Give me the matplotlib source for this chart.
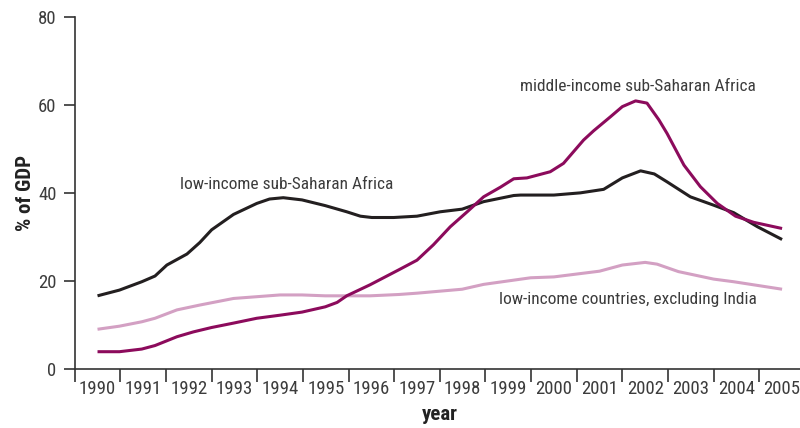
import matplotlib
matplotlib.use("Agg")
import matplotlib.pyplot as plt
from matplotlib import font_manager

# pick a narrow sans face if one is available
available = {f.name for f in font_manager.fontManager.ttflist}
FONT = "DejaVu Sans"
for fam in ["Roboto Condensed", "Archivo Narrow", "PT Sans Narrow", "Fira Sans Condensed",
            "Barlow Semi Condensed", "Liberation Sans Narrow", "Sofia Sans Condensed",
            "Roboto"]:
    if fam in available:
        FONT = fam
        break
plt.rcParams["font.family"] = [FONT, "DejaVu Sans"]

years = [str(y) for y in range(1990, 2006)]
y_ticks = [0, 20, 40, 60, 80]

# positions are measured in years after 1990 (category 1990 = 0)
low_ssa_t = [0, 0.48, 0.97, 1.26, 1.52, 1.96, 2.24, 2.5, 2.98, 3.49, 3.77, 4.07,
             4.48, 4.99, 5.46, 5.76, 6.01, 6.49, 7.0, 7.51, 7.99, 8.46, 9.12,
             9.27, 10.0, 10.58, 11.09, 11.5, 11.9, 12.2, 12.48, 12.99, 13.5,
             13.94, 14.46, 15.0]
low_ssa = [16.7, 18.0, 19.9, 21.2, 23.7, 26.2, 28.8, 31.7, 35.2, 37.7, 38.7, 39.0,
           38.5, 37.2, 35.8, 34.8, 34.5, 34.5, 34.8, 35.8, 36.4, 38.1, 39.5,
           39.6, 39.6, 40.1, 40.9, 43.5, 45.1, 44.4, 42.6, 39.2, 37.3,
           35.6, 32.4, 29.5]

mid_ssa_t = [0, 0.48, 0.97, 1.26, 1.74, 2.1, 2.5, 2.98, 3.49, 4.0, 4.48, 4.99,
             5.25, 5.46, 5.97, 6.6, 7.0, 7.36, 7.73, 8.1, 8.46, 8.83, 9.12,
             9.41, 9.92, 10.21, 10.65, 10.87, 11.24, 11.5, 11.79, 12.04, 12.3,
             12.48, 12.85, 13.21, 13.58, 13.98, 14.38, 15.0]
mid_ssa = [4.0, 4.0, 4.6, 5.4, 7.4, 8.5, 9.5, 10.5, 11.6, 12.3, 13.0, 14.2,
           15.2, 16.7, 19.2, 22.6, 24.8, 28.3, 32.4, 35.8, 39.2, 41.4, 43.3,
           43.5, 44.9, 46.8, 52.1, 54.2, 57.4, 59.7, 61.0, 60.5, 56.7,
           53.6, 46.4, 41.5, 37.7, 34.8, 33.4, 32.0]

low_ex_india_t = [0, 0.48, 0.97, 1.26, 1.74, 2.24, 2.98, 4.0, 4.48, 4.99, 5.97,
                  6.6, 7.0, 7.99, 8.46, 9.49, 10.0, 11.0, 11.5, 12.0, 12.26,
                  12.73, 13.5, 13.94, 15.0]
low_ex_india = [9.1, 9.8, 10.8, 11.6, 13.5, 14.6, 16.1, 16.9, 16.9, 16.7, 16.7,
                17.0, 17.3, 18.2, 19.3, 20.8, 21.0, 22.3, 23.7, 24.3, 23.9,
                22.2, 20.5, 19.9, 18.2]

BLACK = "#231f20"
MAGENTA = "#8c0b5c"
PINK = "#d3a0c3"
TEXT = "#3c3c3c"

fig = plt.figure(figsize=(8.0, 4.28), dpi=100)
ax = fig.add_axes([74.7 / 800, 1 - 369.3 / 428, 730.2 / 800, 352.0 / 428])

kw = dict(lw=2.2, solid_joinstyle="round", solid_capstyle="butt", clip_on=False)
ax.plot(low_ex_india_t, low_ex_india, color=PINK, **kw)
ax.plot(low_ssa_t, low_ssa, color=BLACK, **kw)
ax.plot(mid_ssa_t, mid_ssa, color=MAGENTA, **kw)

ax.set_xlim(-0.5, 15.5)
ax.set_ylim(0, 80)

for side in ("top", "right"):
    ax.spines[side].set_visible(False)
for side in ("left", "bottom"):
    ax.spines[side].set_color("#333333")
    ax.spines[side].set_linewidth(1.2)

# category boundaries carry the tick marks, labels sit at the centres
ax.set_xticks([i - 0.5 for i in range(len(years))])
ax.set_xticklabels([])
ax.set_xticks(range(len(years)), minor=True)
ax.set_xticklabels(years, minor=True)
ax.tick_params(axis="x", which="major", length=9, width=1.2, color="#333333")
ax.tick_params(axis="x", which="minor", length=0, pad=8, labelsize=13.5, labelcolor=TEXT)

ax.set_yticks(y_ticks)
ax.tick_params(axis="y", length=8, width=1.2, color="#333333", pad=5,
               labelsize=13.5, labelcolor=TEXT)

ax.set_ylabel("% of GDP", fontsize=15, fontweight="bold", color="#222222", labelpad=2)
ax.set_xlabel("year", fontsize=15, fontweight="bold", color="#222222", labelpad=5)

ax.text(1.8, 42.0, "low-income sub-Saharan Africa", fontsize=12.5, color=TEXT,
        ha="left", va="center")
ax.text(9.25, 64.2, "middle-income sub-Saharan Africa", fontsize=12.5, color=TEXT,
        ha="left", va="center")
ax.text(8.8, 15.8, "low-income countries, excluding India", fontsize=12.5, color=TEXT,
        ha="left", va="center")

fig.savefig("out.png", dpi=100)
